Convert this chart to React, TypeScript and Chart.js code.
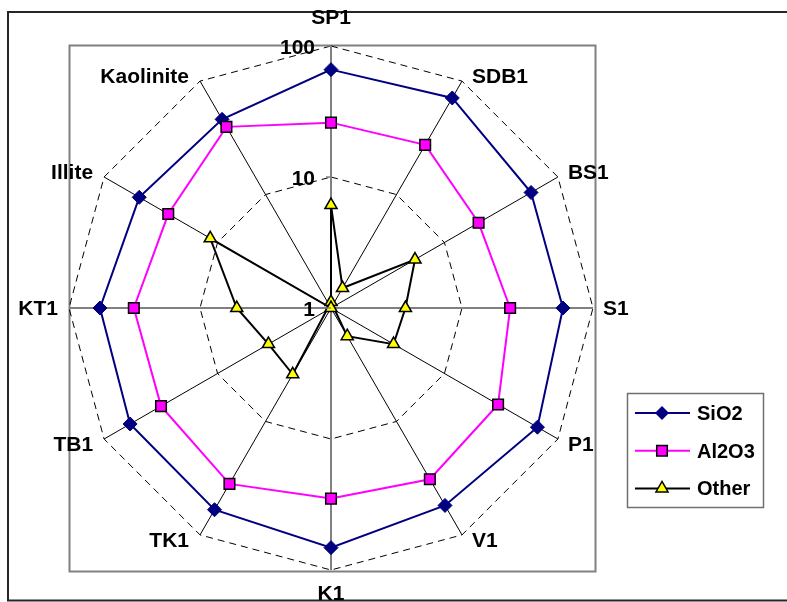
import React, { useEffect, useRef } from "react";
import { Chart, registerables } from "chart.js";

Chart.register(...registerables);

const categories = ["SP1", "SDB1", "BS1", "S1", "P1", "V1", "K1", "TK1", "TB1", "KT1", "Illite", "Kaolinite"];
const sio2 = [66, 71, 58, 59, 66, 55, 67.5, 60, 59, 58, 49, 46];
const al2o3 = [26, 27.4, 20, 23.3, 29.7, 32.3, 28.5, 35.5, 31.5, 32, 27.2, 39.5];
const other = [6.1, 1.5, 5.5, 3.7, 3.56, 1.77, 0.9, 3.84, 3.56, 5.24, 11.6, 1.0];
const tickValues = [1, 10, 100];
const tickLabels = ["1", "10", "100"];
const seriesNames = ["SiO2", "Al2O3", "Other"];

const FONT = '"Liberation Sans", Arial, sans-serif';
const SIO2_COLOR = "#000080";
const AL_COLOR = "#FF00FF";
const OTHER_FILL = "#FFFF00";

function drawMarker(ctx: CanvasRenderingContext2D, kind: number, x: number, y: number) {
  ctx.save();
  ctx.beginPath();
  if (kind === 0) {
    const s = 7;
    ctx.moveTo(x, y - s);
    ctx.lineTo(x + s, y);
    ctx.lineTo(x, y + s);
    ctx.lineTo(x - s, y);
    ctx.closePath();
    ctx.fillStyle = SIO2_COLOR;
    ctx.fill();
  } else if (kind === 1) {
    const s = 5.3;
    ctx.rect(x - s, y - s, 2 * s, 2 * s);
    ctx.fillStyle = AL_COLOR;
    ctx.fill();
    ctx.lineWidth = 1.5;
    ctx.strokeStyle = "#000";
    ctx.stroke();
  } else {
    const r = 7;
    for (let k = 0; k < 3; k++) {
      const a = (k * 2 * Math.PI) / 3;
      const px = x + Math.sin(a) * r;
      const py = y - Math.cos(a) * r;
      if (k === 0) ctx.moveTo(px, py);
      else ctx.lineTo(px, py);
    }
    ctx.closePath();
    ctx.fillStyle = OTHER_FILL;
    ctx.fill();
    ctx.lineWidth = 1.5;
    ctx.strokeStyle = "#000";
    ctx.stroke();
  }
  ctx.restore();
}

const framePlugin = {
  id: "frameAndLabels",
  beforeDraw(chart: any) {
    const ctx: CanvasRenderingContext2D = chart.ctx;
    const r = chart.scales.r;
    const R = r.drawingArea;
    ctx.save();
    ctx.fillStyle = "#fff";
    ctx.fillRect(0, 0, chart.width, chart.height);
    ctx.strokeStyle = "#262626";
    ctx.lineWidth = 2;
    ctx.beginPath();
    ctx.moveTo(chart.width + 5, 12);
    ctx.lineTo(8, 12);
    ctx.lineTo(8, 600.5);
    ctx.lineTo(chart.width + 5, 600.5);
    ctx.stroke();
    ctx.strokeStyle = "#808080";
    ctx.lineWidth = 2;
    ctx.strokeRect(r.xCenter - R + 0.5, r.yCenter - R - 0.5, 2 * R + 2, 2 * R + 2);
    ctx.restore();
  },
  afterDraw(chart: any) {
    const ctx: CanvasRenderingContext2D = chart.ctx;
    const r = chart.scales.r;
    const R = r.drawingArea;
    ctx.save();
    ctx.fillStyle = "#000";
    ctx.font = `bold 21px ${FONT}`;
    ctx.textBaseline = "alphabetic";
    categories.forEach((label, i) => {
      const p = r.getPointPosition(i, R);
      let x = p.x;
      let y = p.y;
      let align: CanvasTextAlign = "center";
      if (i === 0) {
        y = p.y - 22;
      } else if (i === 6) {
        y = p.y + 30;
      } else if (i < 6) {
        align = "left";
        x = p.x + 10;
        y = p.y + (i < 3 ? 2 : i === 3 ? 7 : 12);
      } else {
        align = "right";
        x = p.x - 11;
        y = p.y + (i > 9 ? 2 : i === 9 ? 7 : 12);
      }
      ctx.textAlign = align;
      ctx.fillText(label, x, y);
    });

    tickValues.forEach((v, k) => {
      const d = r.getDistanceFromCenterForValue(Math.log10(v));
      const y = r.yCenter - d;
      ctx.strokeStyle = "#808080";
      ctx.lineWidth = 1.5;
      ctx.beginPath();
      ctx.moveTo(r.xCenter - 5, y);
      ctx.lineTo(r.xCenter, y);
      ctx.stroke();
      ctx.fillStyle = "#000";
      ctx.textAlign = "right";
      ctx.fillText(tickLabels[k], r.xCenter - 16, y + 7.5);
    });

    // legend
    ctx.strokeStyle = "#707070";
    ctx.lineWidth = 1.5;
    ctx.strokeRect(627.5, 393.5, 136, 114);
    const lineColors = [SIO2_COLOR, AL_COLOR, "#000"];
    ctx.font = `bold 20px ${FONT}`;
    seriesNames.forEach((name, i) => {
      const y = 413 + i * 37.7;
      ctx.strokeStyle = lineColors[i];
      ctx.lineWidth = 2;
      ctx.beginPath();
      ctx.moveTo(635, y);
      ctx.lineTo(690, y);
      ctx.stroke();
      drawMarker(ctx, i, 662, y);
      ctx.fillStyle = "#000";
      ctx.textAlign = "left";
      ctx.fillText(name, 697, y + 7);
    });
    ctx.restore();
  },
};

export default function App() {
  const ref = useRef<HTMLCanvasElement | null>(null);
  useEffect(() => {
    if (!ref.current) return;
    const toLog = (v: number) => Math.log10(v);
    const chart = new Chart(ref.current, {
      type: "radar",
      data: {
        labels: categories,
        datasets: [
          {
            label: seriesNames[0],
            data: sio2.map(toLog),
            borderColor: SIO2_COLOR,
            backgroundColor: SIO2_COLOR,
            borderWidth: 2,
            fill: false,
            pointStyle: "rectRot",
            pointRadius: 7,
            pointBackgroundColor: SIO2_COLOR,
            pointBorderColor: SIO2_COLOR,
            pointBorderWidth: 1,
            order: 3,
          },
          {
            label: seriesNames[1],
            data: al2o3.map(toLog),
            borderColor: AL_COLOR,
            backgroundColor: AL_COLOR,
            borderWidth: 2,
            fill: false,
            pointStyle: "rect",
            pointRadius: 7.5,
            pointBackgroundColor: AL_COLOR,
            pointBorderColor: "#000",
            pointBorderWidth: 1.5,
            order: 2,
          },
          {
            label: seriesNames[2],
            data: other.map(toLog),
            borderColor: "#000",
            backgroundColor: OTHER_FILL,
            borderWidth: 2,
            fill: false,
            pointStyle: "triangle",
            pointRadius: 7,
            pointBackgroundColor: OTHER_FILL,
            pointBorderColor: "#000",
            pointBorderWidth: 1.5,
            order: 1,
          },
        ],
      },
      options: {
        responsive: false,
        animation: false,
        devicePixelRatio: 1,
        layout: { padding: { left: 69, top: 46, right: 194, bottom: 32 } },
        plugins: {
          legend: { display: false },
          tooltip: { enabled: false },
        },
        elements: { line: { tension: 0 } },
        scales: {
          r: {
            min: 0,
            max: 2,
            ticks: { display: false, stepSize: 1 },
            pointLabels: { display: false },
            grid: { color: "#000", lineWidth: 1 },
            border: { dash: [7, 5] },
            angleLines: {
              color: (c: any) => (c.index % 3 === 0 ? "#808080" : "#000"),
              lineWidth: (c: any) => (c.index % 3 === 0 ? 2 : 1),
            },
          },
        },
      } as any,
      plugins: [framePlugin],
    });
    return () => chart.destroy();
  }, []);
  return (
    <div style={{ position: "absolute", left: 0, top: 0, width: 787, height: 602 }}>
      <canvas ref={ref} width={787} height={602} />
    </div>
  );
}
